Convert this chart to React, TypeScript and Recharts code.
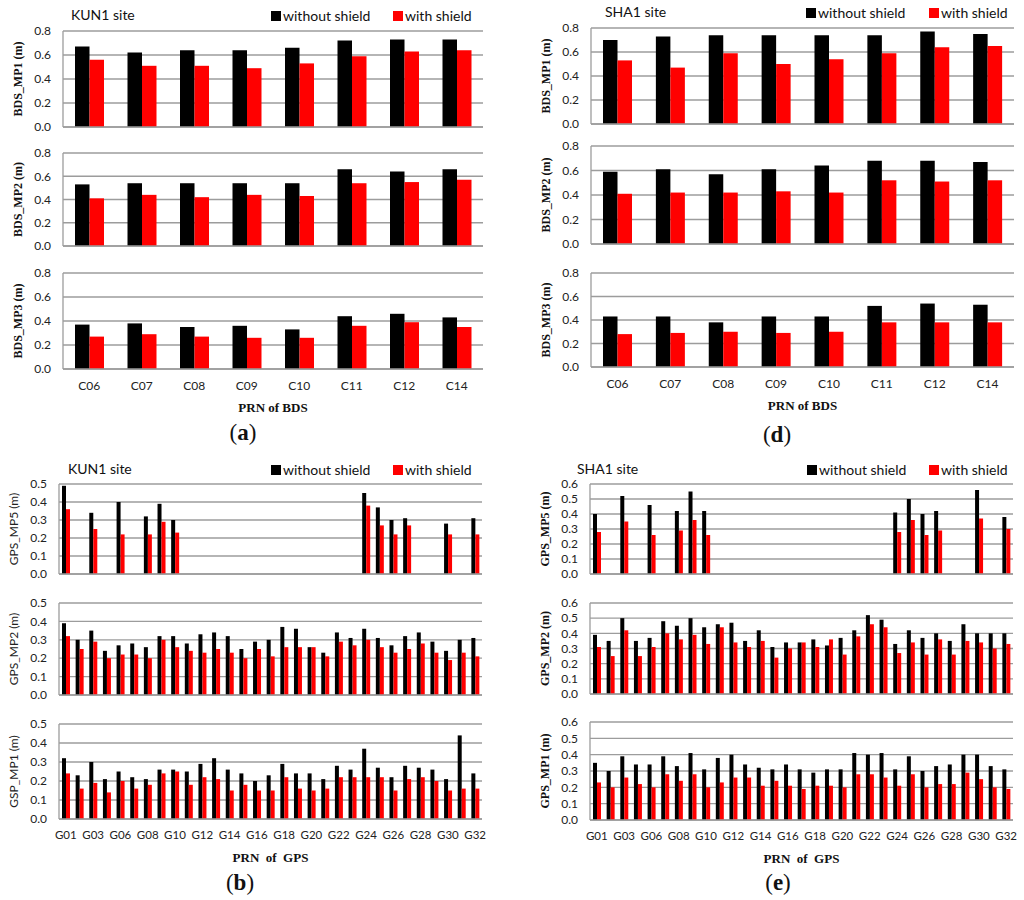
import { BarChart, Bar, XAxis, YAxis, CartesianGrid } from 'recharts';

// BDS satellites
const bdsPrn = ['C06', 'C07', 'C08', 'C09', 'C10', 'C11', 'C12', 'C14'];
const bdsTicks = [0, 0.2, 0.4, 0.6, 0.8];

// KUN1 BDS
const kunMp1Without = [0.67, 0.62, 0.64, 0.64, 0.66, 0.72, 0.73, 0.73];
const kunMp1With = [0.56, 0.51, 0.51, 0.49, 0.53, 0.59, 0.63, 0.64];
const kunMp2Without = [0.53, 0.54, 0.54, 0.54, 0.54, 0.66, 0.64, 0.66];
const kunMp2With = [0.41, 0.44, 0.42, 0.44, 0.43, 0.54, 0.55, 0.57];
const kunMp3Without = [0.37, 0.38, 0.35, 0.36, 0.33, 0.44, 0.46, 0.43];
const kunMp3With = [0.27, 0.29, 0.27, 0.26, 0.26, 0.36, 0.39, 0.35];

// SHA1 BDS
const shaMp1Without = [0.7, 0.73, 0.74, 0.74, 0.74, 0.74, 0.77, 0.75];
const shaMp1With = [0.53, 0.47, 0.59, 0.5, 0.54, 0.59, 0.64, 0.65];
const shaMp2Without = [0.59, 0.61, 0.57, 0.61, 0.64, 0.68, 0.68, 0.67];
const shaMp2With = [0.41, 0.42, 0.42, 0.43, 0.42, 0.52, 0.51, 0.52];
const shaMp3Without = [0.43, 0.43, 0.38, 0.43, 0.43, 0.52, 0.54, 0.53];
const shaMp3With = [0.28, 0.29, 0.3, 0.29, 0.3, 0.38, 0.38, 0.38];

// GPS satellites
const gpsPrn = [
  'G01', 'G02', 'G03', 'G05', 'G06', 'G07', 'G08', 'G09', 'G10', 'G11', 'G12',
  'G13', 'G14', 'G15', 'G16', 'G17', 'G18', 'G19', 'G20', 'G21', 'G22', 'G23',
  'G24', 'G25', 'G26', 'G27', 'G28', 'G29', 'G30', 'G31', 'G32',
];
const gpsL5Prn = ['G01', 'G03', 'G06', 'G08', 'G09', 'G10', 'G24', 'G25', 'G26', 'G27', 'G30', 'G32'];
const kunTicks = [0, 0.1, 0.2, 0.3, 0.4, 0.5];
const shaTicks = [0, 0.1, 0.2, 0.3, 0.4, 0.5, 0.6];

// KUN1 GPS
const kunMp5Without = [0.49, 0.34, 0.4, 0.32, 0.39, 0.3, 0.45, 0.37, 0.3, 0.31, 0.28, 0.31];
const kunMp5With = [0.36, 0.25, 0.22, 0.22, 0.29, 0.23, 0.38, 0.27, 0.22, 0.27, 0.22, 0.22];
const kunGpsMp2Without = [
  0.39, 0.3, 0.35, 0.24, 0.27, 0.28, 0.26, 0.32, 0.32, 0.28, 0.33, 0.34, 0.32, 0.25, 0.29, 0.3,
  0.37, 0.36, 0.26, 0.23, 0.34, 0.31, 0.36, 0.31, 0.27, 0.32, 0.34, 0.29, 0.24, 0.3, 0.31,
];
const kunGpsMp2With = [
  0.32, 0.25, 0.29, 0.2, 0.22, 0.22, 0.2, 0.3, 0.26, 0.24, 0.23, 0.25, 0.23, 0.2, 0.25, 0.21,
  0.26, 0.26, 0.26, 0.21, 0.29, 0.27, 0.3, 0.26, 0.23, 0.25, 0.28, 0.23, 0.19, 0.23, 0.21,
];
const kunGpsMp1Without = [
  0.32, 0.23, 0.3, 0.21, 0.25, 0.22, 0.21, 0.26, 0.26, 0.25, 0.29, 0.32, 0.26, 0.24, 0.2, 0.23,
  0.29, 0.24, 0.24, 0.21, 0.28, 0.26, 0.37, 0.27, 0.22, 0.28, 0.27, 0.26, 0.21, 0.44, 0.24,
];
const kunGpsMp1With = [
  0.24, 0.16, 0.19, 0.14, 0.2, 0.16, 0.18, 0.24, 0.25, 0.18, 0.22, 0.21, 0.15, 0.18, 0.15, 0.15,
  0.22, 0.16, 0.15, 0.16, 0.22, 0.22, 0.22, 0.22, 0.15, 0.21, 0.22, 0.2, 0.15, 0.16, 0.16,
];

// SHA1 GPS
const shaMp5Without = [0.4, 0.52, 0.46, 0.42, 0.55, 0.42, 0.41, 0.5, 0.4, 0.42, 0.56, 0.38];
const shaMp5With = [0.28, 0.35, 0.26, 0.29, 0.36, 0.26, 0.28, 0.36, 0.26, 0.29, 0.37, 0.3];
const shaGpsMp2Without = [
  0.39, 0.35, 0.5, 0.35, 0.37, 0.48, 0.45, 0.5, 0.44, 0.46, 0.47, 0.35, 0.42, 0.31, 0.34, 0.34,
  0.36, 0.32, 0.37, 0.42, 0.52, 0.49, 0.33, 0.42, 0.37, 0.4, 0.35, 0.46, 0.4, 0.4, 0.4,
];
const shaGpsMp2With = [
  0.31, 0.25, 0.42, 0.25, 0.31, 0.4, 0.36, 0.39, 0.33, 0.44, 0.34, 0.31, 0.35, 0.24, 0.3, 0.34,
  0.31, 0.36, 0.26, 0.38, 0.46, 0.44, 0.27, 0.34, 0.26, 0.36, 0.26, 0.35, 0.34, 0.3, 0.33,
];
const shaGpsMp1Without = [
  0.35, 0.3, 0.39, 0.34, 0.34, 0.39, 0.33, 0.41, 0.31, 0.38, 0.4, 0.34, 0.32, 0.31, 0.34, 0.31,
  0.29, 0.31, 0.31, 0.41, 0.4, 0.41, 0.31, 0.39, 0.3, 0.33, 0.34, 0.4, 0.4, 0.33, 0.31,
];
const shaGpsMp1With = [
  0.23, 0.2, 0.26, 0.22, 0.2, 0.28, 0.24, 0.28, 0.2, 0.23, 0.26, 0.26, 0.21, 0.24, 0.21, 0.19,
  0.21, 0.21, 0.2, 0.28, 0.28, 0.26, 0.21, 0.28, 0.2, 0.22, 0.22, 0.29, 0.25, 0.2, 0.19,
];

type Row = { prn: string; without: number | null; with: number | null };

const bdsRows = (w: number[], s: number[]): Row[] =>
  bdsPrn.map((prn, i) => ({ prn, without: w[i], with: s[i] }));
const gpsRows = (w: number[], s: number[]): Row[] =>
  gpsPrn.map((prn, i) => ({ prn, without: w[i], with: s[i] }));
const l5Rows = (w: number[], s: number[]): Row[] =>
  gpsPrn.map((prn) => {
    const i = gpsL5Prn.indexOf(prn);
    return { prn, without: i < 0 ? null : w[i], with: i < 0 ? null : s[i] };
  });

const sans = 'Lato, "Open Sans", sans-serif';
const serif = '"Liberation Serif", "DejaVu Serif", serif';
const tickFont = { fontFamily: sans, fontSize: 12, fill: '#222' };
const serifLabel = { fontFamily: serif, fontWeight: 700, fontSize: 12, fill: '#111', textAnchor: 'middle' };
const sansLabel = { fontFamily: sans, fontSize: 12, fill: '#222', textAnchor: 'middle' };
const gridColor = '#9c9c9c';

type SubProps = {
  rows: Row[];
  left: number;
  right: number;
  top: number;
  bottom: number;
  ticks: number[];
  yLabel: string;
  labelStyle: object;
  barSize: number;
  showX?: boolean;
  xTitle?: string;
  interval?: number;
  xFontSize?: number;
};

function Sub({ rows, left, right, top, bottom, ticks, yLabel, labelStyle, barSize, showX, xTitle, interval = 0, xFontSize = 12 }: SubProps) {
  const yw = 62;
  const mt = 10;
  const mr = 14;
  const xh = showX ? 52 : 10;
  const width = right - left + yw + mr;
  const height = bottom - top + mt + xh;
  return (
    <div style={{ position: 'absolute', left: left - yw, top: top - mt }}>
      <BarChart width={width} height={height} data={rows} margin={{ top: mt, right: mr, left: 0, bottom: 0 }} barGap={0}>
        <CartesianGrid vertical={false} stroke={gridColor} strokeWidth={1.3} />
        <XAxis
          dataKey="prn"
          height={xh}
          interval={interval}
          tick={showX ? { ...tickFont, fontSize: xFontSize } : false}
          tickLine={false}
          tickSize={0}
          tickMargin={12}
          axisLine={{ stroke: gridColor, strokeWidth: 1.3 }}
          label={
            xTitle
              ? { value: xTitle, position: 'insideBottom', offset: 9, style: { ...serifLabel, fontSize: 13 } }
              : undefined
          }
        />
        <YAxis
          width={yw}
          domain={[0, ticks[ticks.length - 1]]}
          ticks={ticks}
          interval={0}
          tick={tickFont}
          tickLine={false}
          tickSize={0}
          tickMargin={12}
          tickFormatter={(v: number) => v.toFixed(1)}
          axisLine={{ stroke: gridColor, strokeWidth: 1.3 }}
          label={{ value: yLabel, angle: -90, position: 'insideLeft', offset: 17, style: labelStyle }}
        />
        <Bar dataKey="without" fill="#000000" barSize={barSize} isAnimationActive={false} />
        <Bar dataKey="with" fill="#ff0000" barSize={barSize} isAnimationActive={false} />
      </BarChart>
    </div>
  );
}

function Legend({ site, siteX, blackX, redX, y }: { site: string; siteX: number; blackX: number; redX: number; y: number }) {
  const text = { position: 'absolute' as const, fontFamily: sans, fontSize: 14, color: '#111', lineHeight: '16px', whiteSpace: 'nowrap' as const };
  const sq = (x: number, c: string) => (
    <div style={{ position: 'absolute', left: x, top: y - 5, width: 10, height: 10, background: c }} />
  );
  return (
    <>
      <div style={{ ...text, left: siteX, top: y - 9 }}>{site}</div>
      {sq(blackX, '#000')}
      <div style={{ ...text, left: blackX + 12, top: y - 8 }}>without shield</div>
      {sq(redX, '#f00')}
      <div style={{ ...text, left: redX + 12, top: y - 8 }}>with shield</div>
    </>
  );
}

function Caption({ letter, x, y }: { letter: string; x: number; y: number }) {
  return (
    <div style={{ position: 'absolute', left: x - 20, top: y - 13, width: 40, textAlign: 'center', fontFamily: serif, fontSize: 23, color: '#111' }}>
      (<b>{letter}</b>)
    </div>
  );
}

export default function App() {
  const gpsTitle = 'PRN\u00a0\u00a0of\u00a0\u00a0GPS';
  return (
    <div style={{ position: 'absolute', left: 0, top: 0, width: 1024, height: 900, background: '#fff' }}>
      {/* (a) KUN1 BDS */}
      <Legend site="KUN1 site" siteX={71} blackX={271} redX={393} y={16} />
      <Sub rows={bdsRows(kunMp1Without, kunMp1With)} left={63} right={483} top={31} bottom={127} ticks={bdsTicks} yLabel="BDS_MP1 (m)" labelStyle={serifLabel} barSize={14.5} />
      <Sub rows={bdsRows(kunMp2Without, kunMp2With)} left={63} right={483} top={153} bottom={246} ticks={bdsTicks} yLabel="BDS_MP2 (m)" labelStyle={serifLabel} barSize={14.5} />
      <Sub rows={bdsRows(kunMp3Without, kunMp3With)} left={63} right={483} top={273} bottom={369} ticks={bdsTicks} yLabel="BDS_MP3 (m)" labelStyle={serifLabel} barSize={14.5} showX xTitle="PRN of BDS" />
      <Caption letter="a" x={243} y={433} />

      {/* (d) SHA1 BDS */}
      <Legend site="SHA1 site" siteX={605} blackX={806} redX={929} y={13} />
      <Sub rows={bdsRows(shaMp1Without, shaMp1With)} left={591} right={1014} top={28} bottom={124} ticks={bdsTicks} yLabel="BDS_MP1 (m)" labelStyle={serifLabel} barSize={14.5} />
      <Sub rows={bdsRows(shaMp2Without, shaMp2With)} left={591} right={1014} top={146} bottom={244} ticks={bdsTicks} yLabel="BDS_MP2 (m)" labelStyle={serifLabel} barSize={14.5} />
      <Sub rows={bdsRows(shaMp3Without, shaMp3With)} left={591} right={1014} top={273} bottom={367} ticks={bdsTicks} yLabel="BDS_MP3 (m)" labelStyle={serifLabel} barSize={14.5} showX xTitle="PRN of BDS" />
      <Caption letter="d" x={777} y={435} />

      {/* (b) KUN1 GPS */}
      <Legend site="KUN1 site" siteX={68} blackX={271} redX={393} y={470} />
      <Sub rows={l5Rows(kunMp5Without, kunMp5With)} left={59} right={482} top={484} bottom={574} ticks={kunTicks} yLabel="GPS_MP5 (m)" labelStyle={sansLabel} barSize={4} interval={1} />
      <Sub rows={gpsRows(kunGpsMp2Without, kunGpsMp2With)} left={59} right={482} top={603} bottom={695} ticks={kunTicks} yLabel="GPS_MP2 (m)" labelStyle={sansLabel} barSize={4} interval={1} />
      <Sub rows={gpsRows(kunGpsMp1Without, kunGpsMp1With)} left={59} right={482} top={724} bottom={819} ticks={kunTicks} yLabel="GSP_MP1 (m)" labelStyle={sansLabel} barSize={4} interval={1} showX xTitle={gpsTitle} xFontSize={11.5} />
      <Caption letter="b" x={240} y={883} />

      {/* (e) SHA1 GPS */}
      <Legend site="SHA1 site" siteX={577} blackX={807} redX={929} y={470} />
      <Sub rows={l5Rows(shaMp5Without, shaMp5With)} left={590} right={1013} top={484} bottom={574} ticks={shaTicks} yLabel="GPS_MP5 (m)" labelStyle={serifLabel} barSize={4} interval={1} />
      <Sub rows={gpsRows(shaGpsMp2Without, shaGpsMp2With)} left={590} right={1013} top={603} bottom={694} ticks={shaTicks} yLabel="GPS_MP2 (m)" labelStyle={serifLabel} barSize={4} interval={1} />
      <Sub rows={gpsRows(shaGpsMp1Without, shaGpsMp1With)} left={590} right={1013} top={722} bottom={820} ticks={shaTicks} yLabel="GPS_MP1 (m)" labelStyle={serifLabel} barSize={4} interval={1} showX xTitle={gpsTitle} xFontSize={11.5} />
      <Caption letter="e" x={778} y={883} />
    </div>
  );
}
